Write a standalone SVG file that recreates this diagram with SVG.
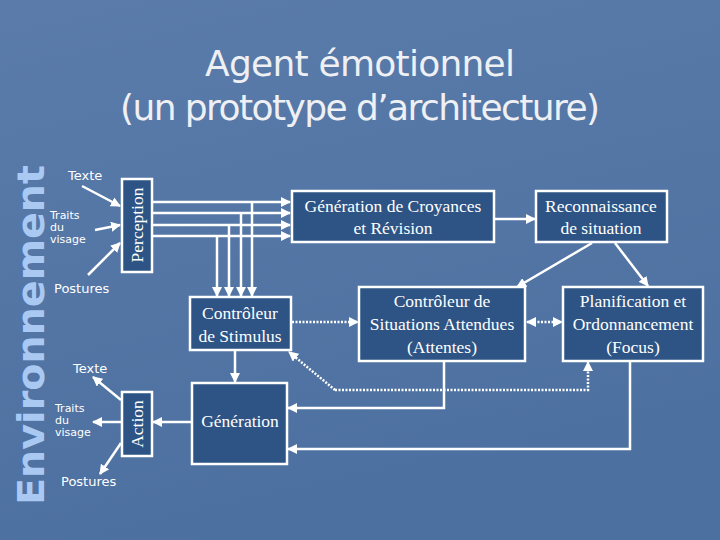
<svg xmlns="http://www.w3.org/2000/svg" width="720" height="540" viewBox="0 0 720 540">
<defs>
<linearGradient id="bg" x1="0" y1="0" x2="0.3" y2="1"><stop offset="0" stop-color="#5b7cab"/><stop offset="1" stop-color="#4c70a0"/></linearGradient>
<marker id="ah" viewBox="0 0 10 10" refX="9" refY="5" markerWidth="4" markerHeight="4" orient="auto-start-reverse"><path d="M0,0 L10,5 L0,10 z" fill="#fff"/></marker>
<style>
.box{fill:#2d5485;stroke:#fff;stroke-width:2.5}
.bt{font-family:"Liberation Serif",serif;font-size:17.5px;fill:#fff;text-anchor:middle}
.lb{font-family:"DejaVu Sans",sans-serif;font-size:13px;fill:#fff}
.sl{font-family:"DejaVu Sans",sans-serif;font-size:11px;fill:#fff}
.ln{stroke:#fff;stroke-width:2.5;fill:none}
.dl{stroke:#fff;stroke-width:2.5;fill:none;stroke-dasharray:2 1.5}
</style>
</defs>
<rect width="720" height="540" fill="url(#bg)"/>
<text x="360" y="76" font-family="DejaVu Sans,sans-serif" font-size="36" fill="#eef0f4" text-anchor="middle" textLength="310">Agent émotionnel</text>
<text x="360" y="120" font-family="DejaVu Sans,sans-serif" font-size="36" fill="#eef0f4" text-anchor="middle" textLength="480">(un prototype d’architecture)</text>
<text transform="translate(44,505) rotate(-90)" font-family="DejaVu Sans,sans-serif" font-weight="bold" font-size="38" fill="#a9c9f2" textLength="340" lengthAdjust="spacingAndGlyphs">Environnement</text>

<g id="labels">
<text class="lb" x="68" y="180">Texte</text>
<text class="sl" x="50" y="219">Traits</text><text class="sl" x="50" y="231">du</text><text class="sl" x="50" y="243">visage</text>
<text class="lb" x="54" y="293">Postures</text>
<text class="lb" x="73" y="373">Texte</text>
<text class="sl" x="55" y="412">Traits</text><text class="sl" x="55" y="424">du</text><text class="sl" x="55" y="436">visage</text>
<text class="lb" x="61" y="486">Postures</text>
</g>

<g id="connectors">
<line class="ln" x1="82" y1="186" x2="120" y2="206" marker-end="url(#ah)"/>
<line class="ln" x1="95" y1="230" x2="120" y2="225" marker-end="url(#ah)"/>
<line class="ln" x1="88" y1="275" x2="120" y2="243" marker-end="url(#ah)"/>
<line class="ln" x1="153" y1="202" x2="290" y2="202" marker-end="url(#ah)"/>
<line class="ln" x1="153" y1="213" x2="290" y2="213" marker-end="url(#ah)"/>
<line class="ln" x1="153" y1="225" x2="290" y2="225" marker-end="url(#ah)"/>
<line class="ln" x1="153" y1="236" x2="290" y2="236" marker-end="url(#ah)"/>
<line class="ln" x1="252" y1="202" x2="252" y2="296" marker-end="url(#ah)"/>
<line class="ln" x1="241" y1="213" x2="241" y2="296" marker-end="url(#ah)"/>
<line class="ln" x1="229" y1="225" x2="229" y2="296" marker-end="url(#ah)"/>
<line class="ln" x1="217" y1="236" x2="217" y2="296" marker-end="url(#ah)"/>
<line class="ln" x1="494" y1="219" x2="535" y2="219" marker-end="url(#ah)"/>
<line class="ln" x1="592" y1="243" x2="517" y2="287" marker-end="url(#ah)"/>
<line class="ln" x1="615" y1="243" x2="648" y2="286" marker-end="url(#ah)"/>
<line class="dl" x1="292" y1="322" x2="358" y2="322" marker-end="url(#ah)"/>
<line class="dl" x1="527" y1="322" x2="562" y2="322" marker-start="url(#ah)" marker-end="url(#ah)"/>
<polyline class="dl" points="335,390 289,352" marker-end="url(#ah)"/>
<polyline class="dl" points="335,390 588,390 588,362" marker-end="url(#ah)"/>
<polyline class="ln" points="444,362 444,408 288,408" marker-end="url(#ah)"/>
<polyline class="ln" points="630,362 630,449 288,449" marker-end="url(#ah)"/>
<line class="ln" x1="235" y1="351" x2="235" y2="382" marker-end="url(#ah)"/>
<line class="ln" x1="191" y1="422" x2="153" y2="422" marker-end="url(#ah)"/>
<line class="ln" x1="121" y1="400" x2="93" y2="377" marker-end="url(#ah)"/>
<line class="ln" x1="121" y1="422" x2="93" y2="422" marker-end="url(#ah)"/>
<line class="ln" x1="121" y1="443" x2="100" y2="474" marker-end="url(#ah)"/>
</g>

<g id="perception"><rect class="box" x="122" y="179" width="30" height="93"/><text class="bt" transform="translate(143,225) rotate(-90)">Perception</text></g>
<g id="action"><rect class="box" x="122" y="392" width="30" height="64"/><text class="bt" transform="translate(143,424) rotate(-90)">Action</text></g>
<g id="croyances"><rect class="box" x="292" y="191" width="202" height="51"/><text class="bt" x="393" y="212">Génération de Croyances</text><text class="bt" x="393" y="234">et Révision</text></g>
<g id="reconnaissance"><rect class="box" x="536" y="191" width="131" height="51"/><text class="bt" x="601" y="212">Reconnaissance</text><text class="bt" x="601" y="234">de situation</text></g>
<g id="stimulus"><rect class="box" x="190" y="297" width="101" height="53"/><text class="bt" x="240" y="319">Contrôleur</text><text class="bt" x="240" y="342">de Stimulus</text></g>
<g id="attentes"><rect class="box" x="359" y="287" width="166" height="74"/><text class="bt" x="442" y="307">Contrôleur de</text><text class="bt" x="442" y="330">Situations Attendues</text><text class="bt" x="442" y="353">(Attentes)</text></g>
<g id="planification"><rect class="box" x="563" y="287" width="140" height="74"/><text class="bt" x="633" y="307">Planification et</text><text class="bt" x="633" y="330">Ordonnancement</text><text class="bt" x="633" y="353">(Focus)</text></g>
<g id="generation"><rect class="box" x="192" y="383" width="95" height="81"/><text class="bt" x="240" y="427">Génération</text></g>
</svg>
